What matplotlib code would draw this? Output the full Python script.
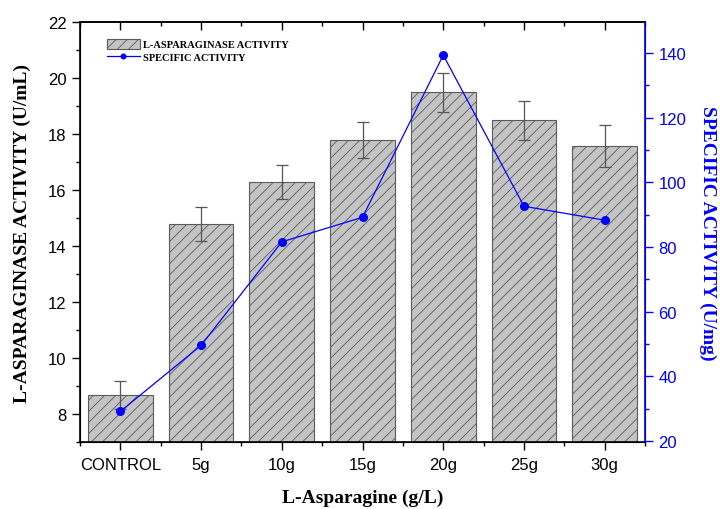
import numpy as np
import matplotlib.pyplot as plt
from matplotlib.ticker import MultipleLocator, FixedLocator

plt.rcParams['hatch.linewidth'] = 0.6

# L-asparagine concentration levels
groups = ['CONTROL', '5g', '10g', '15g', '20g', '25g', '30g']

# L-asparaginase activity (U/mL) with error
activity = [8.7, 14.8, 16.3, 17.8, 19.5, 18.5, 17.6]
activity_err = [0.5, 0.62, 0.6, 0.65, 0.7, 0.7, 0.75]

# specific activity (U/mg)
specific = [29.2, 49.6, 81.6, 89.2, 139.3, 92.6, 88.3]

serif = 'Liberation Serif'
sans = 'Liberation Sans'

fig = plt.figure(figsize=(7.2, 5.1), dpi=100)
ax = fig.add_axes([0.111, 0.131, 0.785, 0.823])
ax2 = ax.twinx()

x = np.arange(len(groups))
bars = ax.bar(x, activity, width=0.8, color='#c4c4c4', edgecolor='#5a5a5a',
              linewidth=0.8, hatch='///', label='L-ASPARAGINASE ACTIVITY', zorder=2)
ax.errorbar(x, activity, yerr=activity_err, fmt='none', ecolor='#555555',
            elinewidth=0.9, capsize=4, capthick=0.9, zorder=3)

line, = ax2.plot(x, specific, color='#0000ff', lw=0.9, marker='o', markersize=5.5,
                 label='SPECIFIC ACTIVITY')

ax.set_xlim(-0.5, 6.5)
ax.set_ylim(7, 22)
ax2.set_ylim(19.7, 149.4)

ax.set_xticks(x)
ax.set_xticklabels(groups, fontfamily=sans, fontsize=12)
ax.xaxis.set_minor_locator(FixedLocator(np.arange(-0.5, 7, 1)))
ax.yaxis.set_major_locator(MultipleLocator(2))
ax.yaxis.set_minor_locator(MultipleLocator(1))
ax2.yaxis.set_major_locator(FixedLocator([20, 40, 60, 80, 100, 120, 140]))
ax2.yaxis.set_minor_locator(FixedLocator([30, 50, 70, 90, 110, 130]))

for lab in ax.get_yticklabels():
    lab.set_fontfamily(sans)
    lab.set_fontsize(12)
for lab in ax2.get_yticklabels():
    lab.set_fontfamily(sans)
    lab.set_fontsize(12)
    lab.set_color('#0000ff')

ax.tick_params(axis='x', which='major', direction='out', length=6, width=1, top=True,
               pad=5)
ax.tick_params(axis='x', which='minor', direction='out', length=3, width=1, top=True)
ax.tick_params(axis='y', which='major', direction='out', length=6, width=1)
ax.tick_params(axis='y', which='minor', direction='out', length=3, width=1)
ax2.tick_params(axis='y', which='major', direction='out', length=6, width=1,
                colors='#0000ff')
ax2.tick_params(axis='y', which='minor', direction='out', length=3, width=1,
                colors='#0000ff')
# top axis ticks point inward
for t in ax.xaxis.get_major_ticks() + ax.xaxis.get_minor_ticks():
    t.tick2line.set_marker(3)

for s in ['left', 'bottom', 'top']:
    ax.spines[s].set_linewidth(1.2)
ax2.spines['right'].set_color('#0000ff')
ax2.spines['right'].set_linewidth(1.2)
ax2.spines['top'].set_linewidth(1.2)

ax.set_xlabel('L-Asparagine (g/L)', fontfamily=serif, fontweight='bold', fontsize=14,
              labelpad=12)
ax.set_ylabel('L-ASPARAGINASE ACTIVITY (U/mL)', fontfamily=serif, fontweight='bold',
              fontsize=14, labelpad=12)
ax2.set_ylabel('SPECIFIC ACTIVITY (U/mg)', fontfamily=serif, fontweight='bold',
               fontsize=14, color='#0000ff', rotation=270, labelpad=22)

leg = ax2.legend([bars, line], ['L-ASPARAGINASE ACTIVITY', 'SPECIFIC ACTIVITY'],
                 loc='upper left', bbox_to_anchor=(0.04, 0.97), frameon=False,
                 prop={'family': serif, 'weight': 'bold', 'size': 7.5},
                 handlelength=3.2, handleheight=1.0, handletextpad=0.3,
                 labelspacing=0.2, borderaxespad=0, markerscale=0.6)

fig.savefig('out.png', dpi=100)
